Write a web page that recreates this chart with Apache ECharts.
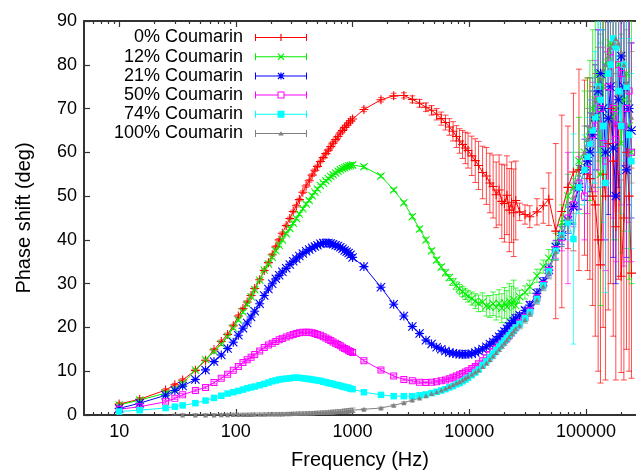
<!DOCTYPE html>
<html>
<head>
<meta charset="utf-8">
<title>Phase shift vs frequency</title>
<script src="https://cdn.jsdelivr.net/npm/echarts@6/dist/echarts.min.js"></script>
<style>
  html, body { margin: 0; padding: 0; background: #ffffff; }
  #chart { width: 636px; height: 471px; }
</style>
</head>
<body>
<div id="chart"></div>
<script>
// Measurement frequencies (Hz): low-frequency sweep, mid sweep, high-frequency sweep
const freqLow = [
  10, 15, 25, 30, 35, 45, 55, 65, 75, 85, 95, 105, 115, 125, 135, 145, 160, 175, 190, 205,
  220, 235, 250, 270, 290, 310, 330, 350, 375, 400, 425, 450, 475, 500, 530, 560, 590, 620,
  650, 680, 715, 750, 785, 820, 855, 890, 925, 960, 1000
];
const freqMid = [
  1250, 1750, 2250, 2750, 3250, 3750, 4250, 4750, 5250, 5750, 6250, 6750, 7250, 7750, 8250,
  8750, 9250, 9750, 10500, 11250, 12000, 13000, 14000, 15000, 16000, 17000, 18000, 19000,
  20000, 21000, 22000, 23000, 24000, 25000
];
const freqHigh = [
  27000, 30000, 33000, 38000, 43000, 48000, 55000, 62000, 70000, 78000, 87000, 97000, 103000,
  108000, 114000, 120000, 127000, 133000, 140000, 147000, 155000, 162000, 171000, 180000,
  190000, 200000, 211000, 222000, 234000, 245000
];
const freq = freqLow.concat(freqMid, freqHigh);

const seriesNames = ['0% Coumarin', '12% Coumarin', '21% Coumarin', '50% Coumarin', '74% Coumarin', '100% Coumarin'];
const seriesColors = ['#ff0000', '#00ee00', '#0000ff', '#ff00ff', '#00ffff', '#808080'];

// Phase shift (deg) per sample, in the order of freq
const phase0 = [
  2.5, 3.6, 5.7, 6.9, 8.0, 10.2, 12.5, 14.9, 16.8, 18.4, 20.4, 22.6, 24.3, 25.8, 27.3, 28.9, 30.9, 33.0, 34.8, 36.6,
  38.4, 40.0, 41.5, 43.3, 44.9, 46.5, 47.8, 49.2, 50.9, 52.3, 53.5, 54.8, 55.9, 56.8, 57.9, 58.8, 59.7, 60.5,
  61.3, 62.1, 62.9, 63.6, 64.4, 65.0, 65.7, 66.2, 66.7, 67.2, 67.6,
  69.8, 72.0, 72.9, 73.0, 72.1, 71.2, 70.3, 69.6, 68.7, 67.7, 66.8, 65.8, 64.8, 63.6, 62.6,
  61.8, 61.0, 60.4, 59.2, 58.1, 57.0, 55.4, 54.6, 53.0, 52.2, 50.3, 51.4, 48.8,
  48.3, 50.2, 46.8, 48.6, 46.2, 49.0,
  46.4, 45.8, 45.3, 46.4, 47.8, 49.3, 42.0, 46.5, 52.0, 55.5, 56.0, 56.5, 55.0,
  54.0, 50.0, 48.0, 40.0, 34.3, 55.0, 50.0, 62.0, 70.0, 58.0, 43.0,
  66.0, 31.7, 45.0, 60.0, 50.0, 32.4
];
const phase12 = [
  2.3, 3.4, 5.0, 5.9, 7.2, 10.3, 12.7, 14.5, 16.2, 17.9, 19.9, 21.7, 23.5, 25.3, 27.0, 28.6, 30.8, 33.1, 34.5, 36.0,
  37.5, 38.8, 40.0, 41.4, 42.6, 43.8, 44.9, 45.9, 47.1, 48.2, 49.0, 50.1, 50.9, 51.6, 52.4, 53.0, 53.5, 54.0,
  54.5, 54.9, 55.3, 55.7, 56.0, 56.3, 56.5, 56.7, 56.9, 57.0, 57.1,
  56.7, 54.6, 51.4, 48.5, 45.3, 42.5, 40.0, 37.5, 35.4, 33.8, 32.5, 31.4, 30.4, 29.5, 28.8,
  28.2, 27.6, 27.1, 26.6, 26.0, 25.5, 25.8, 24.9, 24.8, 25.4, 24.6, 25.5, 24.4,
  25.6, 24.7, 26.0, 25.2, 26.3, 25.0,
  27.0, 28.0, 29.3, 31.8, 33.9, 35.8, 38.5, 44.0, 50.0, 52.0, 58.0, 60.0, 63.0,
  65.0, 70.0, 72.0, 78.0, 55.0, 75.0, 80.0, 82.0, 85.0, 68.0, 70.0,
  80.0, 62.0, 72.0, 78.0, 66.0, 60.0
];
const phase21 = [
  1.5, 2.7, 4.5, 5.6, 6.6, 8.1, 10.3, 12.2, 13.7, 15.2, 16.6, 18.2, 19.8, 21.0, 22.4, 23.7, 25.4, 27.3, 28.8, 30.0,
  31.1, 31.9, 32.7, 33.5, 34.4, 35.1, 35.7, 36.3, 36.9, 37.4, 37.8, 38.2, 38.5, 38.8, 39.1, 39.3, 39.3, 39.3,
  39.2, 39.0, 38.8, 38.6, 38.3, 38.0, 37.6, 37.3, 37.0, 36.6, 36.0,
  33.9, 29.2, 25.3, 22.6, 20.2, 18.6, 17.1, 16.2, 15.5, 15.0, 14.6, 14.3, 14.1, 14.0, 13.9,
  13.9, 13.9, 13.9, 14.0, 14.3, 14.6, 15.1, 15.6, 16.2, 16.7, 17.3, 17.9, 18.5,
  19.1, 19.7, 20.3, 20.9, 21.5, 22.1,
  22.8, 23.9, 25.1, 27.8, 30.4, 33.1, 38.4, 41.0, 44.5, 47.6, 52.0, 56.0, 58.0,
  60.0, 64.0, 68.0, 74.0, 78.0, 70.0, 60.0, 67.8, 75.0, 61.0, 50.0,
  72.0, 82.0, 75.0, 56.0, 70.0, 65.0
];
const phase50 = [
  1.3, 1.9, 3.0, 3.8, 4.6, 5.6, 6.3, 7.4, 8.4, 9.3, 10.2, 11.1, 12.0, 12.6, 13.2, 13.8, 14.6, 15.4, 16.0, 16.4,
  16.8, 17.2, 17.5, 17.8, 18.1, 18.4, 18.6, 18.8, 18.9, 18.9, 18.9, 18.8, 18.6, 18.4, 18.2, 17.9, 17.6, 17.3,
  17.0, 16.7, 16.4, 16.1, 15.8, 15.5, 15.2, 15.0, 14.7, 14.5, 14.3,
  12.4, 10.3, 8.9, 8.1, 7.8, 7.5, 7.4, 7.5, 7.6, 7.8, 8.0, 8.3, 8.6, 8.9, 9.2,
  9.5, 9.8, 10.1, 10.6, 11.1, 11.7, 12.4, 13.1, 13.8, 14.5, 15.2, 15.8, 16.4,
  17.0, 17.6, 18.2, 18.8, 19.4, 20.0,
  21.0, 22.3, 23.8, 26.8, 29.8, 33.0, 37.8, 40.5, 45.0, 48.0, 53.0, 50.0, 56.0,
  62.0, 64.0, 66.0, 72.0, 70.0, 62.0, 58.0, 75.0, 83.0, 70.0, 63.0,
  80.0, 78.0, 66.0, 70.0, 74.0, 60.0
];
const phase74 = [
  0.8, 1.1, 1.6, 1.9, 2.2, 2.7, 3.3, 3.9, 4.4, 4.9, 5.2, 5.5, 5.8, 6.1, 6.3, 6.5, 6.8, 7.1, 7.4, 7.7,
  7.9, 8.1, 8.2, 8.3, 8.4, 8.5, 8.5, 8.5, 8.4, 8.3, 8.2, 8.1, 8.0, 7.9, 7.8, 7.6, 7.5, 7.3,
  7.2, 7.1, 6.9, 6.8, 6.7, 6.5, 6.4, 6.3, 6.2, 6.0, 5.9,
  5.2, 4.6, 4.3, 4.3, 4.3, 4.5, 4.7, 5.0, 5.3, 5.6, 5.9, 6.3, 6.6, 7.0, 7.3,
  7.7, 8.1, 8.5, 9.1, 9.7, 10.4, 11.4, 12.3, 13.2, 14.0, 14.8, 15.6, 16.3,
  17.0, 17.6, 18.2, 18.8, 19.4, 20.0,
  20.8, 22.1, 23.5, 26.5, 29.6, 32.8, 37.5, 41.0, 44.0, 40.2, 52.0, 56.0, 59.0,
  62.0, 65.0, 68.0, 75.0, 72.0, 66.0, 53.0, 78.0, 80.0, 86.0, 84.0,
  74.0, 66.0, 80.0, 75.0, 64.0, 58.0
];
const phase100 = [
  -0.6, -0.5, -0.3, -0.1, 0.0, 0.0, 0.0, 0.0, 0.05, 0.05, 0.1, 0.1, 0.1, 0.1, 0.12, 0.15, 0.15, 0.18, 0.2, 0.2,
  0.22, 0.25, 0.25, 0.28, 0.3, 0.33, 0.35, 0.4, 0.4, 0.42, 0.45, 0.48, 0.5, 0.55, 0.57, 0.6, 0.62, 0.65,
  0.68, 0.7, 0.75, 0.78, 0.8, 0.85, 0.88, 0.9, 0.95, 1.0, 1.1,
  1.3, 1.6, 2.2, 2.8, 3.4, 3.9, 4.4, 4.9, 5.3, 5.7, 6.1, 6.5, 6.9, 7.3, 7.6,
  8.0, 8.4, 8.8, 9.3, 9.8, 10.3, 11.1, 11.9, 12.7, 13.5, 14.3, 15.1, 15.8,
  16.5, 17.2, 17.9, 18.6, 19.2, 19.8,
  20.5, 21.8, 23.3, 26.3, 29.4, 32.6, 37.3, 41.0, 45.0, 50.0, 55.0, 60.0, 63.0,
  66.0, 69.0, 72.0, 75.0, 77.0, 79.0, 80.0, 82.0, 84.0, 85.0, 86.0,
  85.0, 83.0, 80.0, 76.0, 72.0, 68.0
];

// Standard deviation (deg) of the low-frequency sweep, common to all samples
const errLow = [
  0.4, 0.4, 0.3, 0.3, 0.3, 0.3, 0.3, 0.3, 0.3, 0.3, 0.3, 0.3, 0.3, 0.3, 0.3, 0.3, 0.3, 0.3, 0.3, 0.3,
  0.3, 0.3, 0.3, 0.3, 0.3, 0.3, 0.3, 0.3, 0.3, 0.3, 0.3, 0.3, 0.3, 0.3, 0.3, 0.3, 0.3, 0.3,
  0.4, 0.4, 0.4, 0.4, 0.4, 0.4, 0.5, 0.5, 0.5, 0.5, 0.5
];
// Standard deviation (deg) of the mid and high sweeps, per sample
const err0 = [
  0.5, 0.5, 0.6, 0.6, 0.8, 0.9, 1.0, 1.1, 1.3, 1.5, 1.7, 1.9, 2.2, 2.5, 2.8,
  3.2, 3.6, 4.0, 4.5, 5.0, 5.5, 6.0, 6.5, 6.8, 7.2, 7.5, 8.0, 8.5,
  8.8, 9.0, 9.5, 9.2, 10.0, 9.0,
  2.0, 2.2, 2.5, 3.0, 4.0, 6.0, 20.0, 22.0, 14.0, 18.0, 23.0, 20.0, 22.0,
  23.0, 25.0, 30.0, 30.0, 27.0, 35.0, 42.0, 38.0, 40.0, 40.0, 35.0,
  35.0, 22.0, 37.0, 45.0, 40.0, 24.0
];
const err12 = [
  0.4, 0.4, 0.4, 0.4, 0.5, 0.5, 0.5, 0.5, 0.6, 0.6, 0.7, 0.7, 0.8, 0.9, 1.0,
  1.1, 1.2, 1.3, 1.5, 1.7, 1.9, 2.1, 2.3, 2.5, 2.7, 2.9, 3.1, 3.3,
  3.5, 3.7, 4.0, 4.2, 4.5, 4.0,
  1.5, 1.5, 1.5, 1.5, 1.5, 2.0, 3.0, 4.0, 5.0, 8.0, 10.0, 14.0, 14.0,
  16.0, 18.0, 20.0, 20.0, 30.0, 22.0, 20.0, 20.0, 25.0, 28.0, 30.0,
  25.0, 25.0, 30.0, 40.0, 35.0, 30.0
];
const err21 = [
  0.3, 0.3, 0.3, 0.3, 0.3, 0.3, 0.3, 0.3, 0.3, 0.3, 0.3, 0.3, 0.3, 0.3, 0.3,
  0.3, 0.3, 0.3, 0.4, 0.4, 0.5, 0.5, 0.5, 0.6, 0.6, 0.6, 0.7, 0.7,
  0.7, 0.8, 0.8, 0.8, 0.9, 0.9,
  0.6, 0.7, 0.8, 1.0, 1.0, 1.2, 1.5, 2.0, 3.0, 4.0, 5.0, 7.0, 8.0,
  9.0, 10.0, 12.0, 14.0, 15.0, 18.0, 20.0, 22.0, 25.0, 25.0, 20.0,
  20.0, 15.0, 18.0, 20.0, 22.0, 20.0
];
const err50 = [
  0.3, 0.3, 0.3, 0.3, 0.3, 0.3, 0.3, 0.3, 0.3, 0.3, 0.3, 0.3, 0.3, 0.3, 0.3,
  0.3, 0.3, 0.3, 0.4, 0.4, 0.4, 0.4, 0.5, 0.5, 0.5, 0.5, 0.6, 0.6,
  0.6, 0.6, 0.6, 0.6, 0.6, 0.6,
  0.8, 0.8, 0.8, 1.0, 1.0, 1.5, 2.0, 3.0, 15.0, 5.0, 6.0, 10.0, 10.0,
  10.0, 12.0, 15.0, 16.0, 18.0, 22.0, 25.0, 22.0, 20.0, 25.0, 28.0,
  25.0, 30.0, 32.0, 35.0, 30.0, 25.0
];
const err74 = [
  0.3, 0.3, 0.3, 0.3, 0.3, 0.3, 0.3, 0.3, 0.3, 0.3, 0.3, 0.3, 0.3, 0.3, 0.3,
  0.3, 0.3, 0.3, 0.4, 0.4, 0.4, 0.4, 0.5, 0.5, 0.5, 0.5, 0.6, 0.6,
  0.6, 0.6, 0.6, 0.6, 0.6, 0.6,
  0.8, 0.8, 0.8, 1.0, 1.0, 1.5, 2.0, 2.5, 4.0, 24.0, 6.0, 8.0, 9.0,
  10.0, 12.0, 15.0, 15.0, 20.0, 22.0, 25.0, 20.0, 20.0, 15.0, 15.0,
  18.0, 20.0, 22.0, 25.0, 22.0, 20.0
];
const err100 = [
  0.2, 0.2, 0.2, 0.2, 0.2, 0.2, 0.2, 0.2, 0.3, 0.3, 0.3, 0.3, 0.3, 0.3, 0.3,
  0.3, 0.3, 0.3, 0.4, 0.4, 0.4, 0.4, 0.5, 0.5, 0.5, 0.5, 0.6, 0.6,
  0.6, 0.6, 0.6, 0.6, 0.6, 0.6,
  0.8, 0.8, 0.8, 1.0, 1.0, 1.5, 2.0, 2.5, 3.0, 4.0, 5.0, 6.0, 7.0,
  8.0, 8.0, 8.0, 9.0, 10.0, 11.0, 12.0, 11.0, 10.0, 9.0, 8.0,
  9.0, 10.0, 11.0, 12.0, 13.0, 15.0
];

const phaseSets = [phase0, phase12, phase21, phase50, phase74, phase100];
const errorSets = [err0, err12, err21, err50, err74, err100].map(e => errLow.concat(e));

// Axis ticks
const yTicks = [0, 10, 20, 30, 40, 50, 60, 70, 80, 90];
const xMajorTicks = [10, 100, 1000, 10000, 100000];
const xMinorTicks = [
  6, 7, 8, 9, 20, 30, 40, 50, 60, 70, 80, 90, 200, 300, 400, 500, 600, 700, 800, 900,
  2000, 3000, 4000, 5000, 6000, 7000, 8000, 9000, 20000, 30000, 40000, 50000, 60000, 70000,
  80000, 90000, 200000
];

const FONT = "'Liberation Sans', Arial, Helvetica, sans-serif";
const AXIS_COLOR = '#333333';

// Point markers (drawn in a 10x10 box)
const PLUS = 'M0,4.4H10V5.6H0Z M4.4,0H5.6V10H4.4Z';
const CROSS = 'M0,0.85L0.85,0L10,9.15L9.15,10Z M10,0.85L0.85,10L0,9.15L9.15,0Z';
const markerSymbols = [
  'path://' + PLUS,
  'path://' + CROSS,
  'path://' + PLUS + ' ' + CROSS,
  'path://M0,0H10V10H0Z M1.4,1.4V8.6H8.6V1.4Z',
  'rect',
  'triangle'
];
const markerSizes = [9, 8, 9, 7, 6.5, 5];

// Key samples: line with error-bar caps at both ends and the marker in the middle
const KEY_CAPS = 'M0,0.5H1V7.5H0Z M51,0.5H52V7.5H51Z';
const KEY_LINE = 'M0,3.5H52V4.5H0Z';
const KEY_LINE_SPLIT = 'M0,3.5H22.5V4.5H0Z M29.5,3.5H52V4.5H29.5Z';
const keyIcons = [
  KEY_CAPS + ' ' + KEY_LINE + ' M22.5,3.4H29.5V4.6H22.5Z M25.4,0.5H26.6V7.5H25.4Z',
  KEY_CAPS + ' ' + KEY_LINE + ' M22.5,1.3L23.3,0.5L29.5,6.7L28.7,7.5Z M29.5,1.3L23.3,7.5L22.5,6.7L28.7,0.5Z',
  KEY_CAPS + ' ' + KEY_LINE + ' M22.5,3.4H29.5V4.6H22.5Z M25.4,0.5H26.6V7.5H25.4Z M22.5,1.3L23.3,0.5L29.5,6.7L28.7,7.5Z M29.5,1.3L23.3,7.5L22.5,6.7L28.7,0.5Z',
  KEY_CAPS + ' ' + KEY_LINE_SPLIT + ' M22.5,0.5H29.5V7.5H22.5Z M23.5,1.5V6.5H28.5V1.5Z',
  KEY_CAPS + ' ' + KEY_LINE + ' M22.5,0.5H29.5V7.5H22.5Z',
  KEY_CAPS + ' ' + KEY_LINE + ' M26,1.8L28.8,6H23.2Z'
].map(p => 'path://' + p);

function errorBarSeries(idx) {
  const color = seriesColors[idx];
  const vals = phaseSets[idx];
  const errs = errorSets[idx];
  return {
    type: 'custom',
    name: seriesNames[idx] + ' (error)',
    xAxisIndex: 0,
    yAxisIndex: 0,
    clip: true,
    silent: true,
    encode: { x: 0, y: [1, 2] },
    data: freq.map((f, i) => [f, vals[i] - errs[i], vals[i] + errs[i]]),
    renderItem(params, api) {
      const f = api.value(0);
      const lo = api.coord([f, api.value(1)]);
      const hi = api.coord([f, api.value(2)]);
      const style = { stroke: color, lineWidth: 1, opacity: 0.7 };
      return {
        type: 'group',
        children: [
          { type: 'line', shape: { x1: lo[0], y1: lo[1], x2: hi[0], y2: hi[1] }, style },
          { type: 'line', shape: { x1: lo[0] - 3, y1: lo[1], x2: lo[0] + 3, y2: lo[1] }, style },
          { type: 'line', shape: { x1: hi[0] - 3, y1: hi[1], x2: hi[0] + 3, y2: hi[1] }, style }
        ]
      };
    }
  };
}

function lineSeries(idx) {
  const color = seriesColors[idx];
  const vals = phaseSets[idx];
  return {
    type: 'line',
    name: seriesNames[idx],
    xAxisIndex: 0,
    yAxisIndex: 0,
    clip: true,
    silent: true,
    symbol: markerSymbols[idx],
    symbolSize: markerSizes[idx],
    showSymbol: true,
    itemStyle: { color: color, borderWidth: 0 },
    lineStyle: { color: color, width: 1 },
    emphasis: { disabled: true },
    data: freq.map((f, i) => [f, vals[i]])
  };
}

const series = [];
seriesNames.forEach((n, i) => {
  series.push(errorBarSeries(i));
  series.push(lineSeries(i));
});

const X_MIN = 5;
const X_MAX = 268000;

function xAxis(position, ticks, tickLen, withLine, withLabels) {
  return {
    type: 'log',
    logBase: 10,
    min: X_MIN,
    max: X_MAX,
    position: position,
    axisLine: { show: withLine, onZero: false, lineStyle: { color: AXIS_COLOR, width: 2 } },
    axisTick: { show: true, inside: true, length: tickLen, customValues: ticks,
                lineStyle: { color: AXIS_COLOR, width: 1.2 } },
    axisLabel: withLabels
      ? { show: true, customValues: ticks, fontSize: 18, color: '#000', margin: 8, fontFamily: FONT,
          formatter: v => String(Math.round(v)) }
      : { show: false },
    minorTick: { show: false },
    splitLine: { show: false },
    minorSplitLine: { show: false }
  };
}

const xMain = xAxis('bottom', xMajorTicks, 6, true, true);
xMain.name = 'Frequency (Hz)';
xMain.nameLocation = 'middle';
xMain.nameGap = 35;
xMain.nameTextStyle = { fontSize: 20, color: '#000', fontFamily: FONT };

const option = {
  animation: false,
  backgroundColor: '#ffffff',
  textStyle: { fontFamily: FONT },
  grid: { left: 84, right: 0, top: 21, bottom: 56, containLabel: false, outerBoundsMode: 'none' },
  legend: {
    orient: 'vertical',
    align: 'right',
    right: 329,
    top: 28,
    padding: 0,
    itemGap: 0.2,
    itemWidth: 52,
    itemHeight: 7,
    selectedMode: false,
    itemStyle: { borderWidth: 0 },
    textStyle: { fontSize: 18, color: '#000', lineHeight: 19, fontFamily: FONT, padding: [0, 7, 0, 0] },
    data: seriesNames.map((n, i) => ({ name: n, icon: keyIcons[i] }))
  },
  xAxis: [
    xMain,
    xAxis('bottom', xMinorTicks, 3, false, false),
    xAxis('top', xMajorTicks, 6, true, false),
    xAxis('top', xMinorTicks, 3, false, false)
  ],
  yAxis: {
    type: 'value',
    min: 0,
    max: 90,
    interval: 10,
    axisLine: { show: true, onZero: false, lineStyle: { color: AXIS_COLOR, width: 2 } },
    axisTick: { show: true, inside: true, length: 6, customValues: yTicks, lineStyle: { color: AXIS_COLOR, width: 1.2 } },
    axisLabel: { fontSize: 18, color: '#000', margin: 7, fontFamily: FONT, customValues: yTicks },
    splitLine: { show: false },
    name: 'Phase shift (deg)',
    nameLocation: 'middle',
    nameGap: 50,
    nameTextStyle: { fontSize: 20, color: '#000', fontFamily: FONT }
  },
  series: series
};

const chart = echarts.init(document.getElementById('chart'), null, { renderer: 'canvas' });
chart.setOption(option);
</script>
</body>
</html>
